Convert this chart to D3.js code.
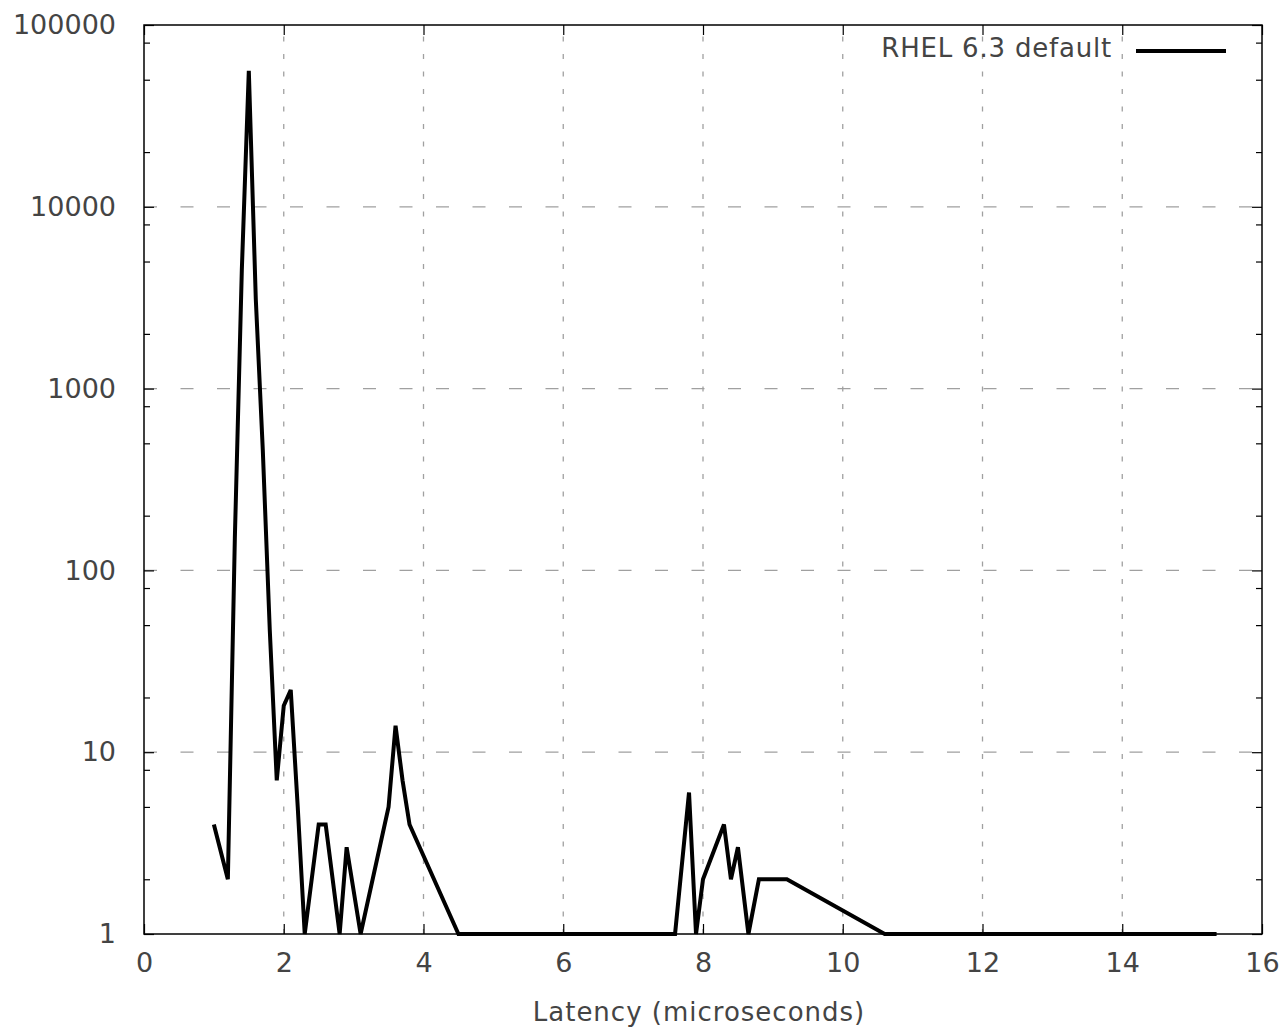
<!DOCTYPE html>
<html>
<head>
<meta charset="utf-8">
<script src="https://cdn.jsdelivr.net/npm/d3@7"></script>
<style>
  body { margin: 0; background: #fff; }
  svg { display: block; }
  text { font-family: 'DejaVu Sans', sans-serif; fill: #444; }
</style>
</head>
<body>
<script>
'use strict';

// latency histogram
const latency = [1.0, 1.2, 1.3, 1.4, 1.5, 1.6, 1.7, 1.8, 1.9, 2.0, 2.1, 2.2, 2.3, 2.5, 2.6, 2.8, 2.9, 3.1,
  3.5, 3.6, 3.7, 3.8, 4.5, 7.6, 7.8, 7.9, 8.0, 8.3, 8.4, 8.5, 8.65, 8.8, 9.2, 10.6, 15.35];
const counts = [4, 2, 150, 4500, 56000, 3100, 460, 47, 7, 18, 22, 5, 1, 4, 4, 1, 3, 1,
  5, 14, 7, 4, 1, 1, 6, 1, 2, 4, 2, 3, 1, 2, 2, 1, 1];

const xTicks = [0, 2, 4, 6, 8, 10, 12, 14, 16];
const yTicks = [1, 10, 100, 1000, 10000, 100000];
const yMinor = [2, 5, 8, 20, 50, 80, 200, 500, 800, 2000, 5000, 8000, 20000, 50000, 80000];
const seriesName = 'RHEL 6.3 default';
const xTitle = 'Latency (microseconds)';

const W = 1280, H = 1029;
const pLeft = 144, pRight = 1262, pTop = 25, pBottom = 934;

const $svg = d3.select('body').append('svg').attr('width', W).attr('height', H);

const x = d3.scaleLinear().domain([0, 16]).range([pLeft, pRight]);
const y = d3.scaleLog().domain([1, 100000]).range([pBottom, pTop]);

// grid
const $grid = $svg.append('g').attr('class', 'grid')
  .attr('stroke', '#a0a0a0').attr('stroke-width', 1.3).attr('fill', 'none');
$grid.selectAll('.vg')
  .data(xTicks.slice(1, -1))
  .enter()
  .append('line')
  .attr('x1', (d) => x(d)).attr('x2', (d) => x(d))
  .attr('y1', pBottom).attr('y2', pTop)
  .attr('stroke-dasharray', '5,12.5');
$grid.selectAll('.hg')
  .data(yTicks.slice(1, -1))
  .enter()
  .append('line')
  .attr('x1', pLeft).attr('x2', pRight)
  .attr('y1', (d) => y(d)).attr('y2', (d) => y(d))
  .attr('stroke-dasharray', '13,23.5');

// axes, ticks pointing inward
const fmt = d3.format('d');
const styleAxis = (g) => {
  g.select('.domain').remove();
  g.selectAll('.tick line').attr('stroke', '#000').attr('stroke-width', 1.2);
  g.selectAll('text').attr('font-size', 27).attr('fill', '#444')
    .attr('font-family', "'DejaVu Sans', sans-serif");
};

$svg.append('g')
  .attr('transform', `translate(0,${pBottom})`)
  .call(d3.axisBottom(x).tickValues(xTicks).tickFormat(fmt).tickSizeInner(-10).tickPadding(19))
  .call(styleAxis);
$svg.append('g')
  .attr('transform', `translate(0,${pTop})`)
  .call(d3.axisTop(x).tickValues(xTicks).tickFormat('').tickSizeInner(-10))
  .call(styleAxis);
$svg.append('g')
  .attr('transform', `translate(${pLeft},0)`)
  .call(d3.axisLeft(y).tickValues(yTicks).tickFormat(fmt).tickSizeInner(-10).tickPadding(28))
  .call(styleAxis);
$svg.append('g')
  .attr('transform', `translate(${pLeft},0)`)
  .call(d3.axisLeft(y).tickValues(yMinor).tickFormat('').tickSizeInner(-6))
  .call(styleAxis);
$svg.append('g')
  .attr('transform', `translate(${pRight},0)`)
  .call(d3.axisRight(y).tickValues(yTicks).tickFormat('').tickSizeInner(-10))
  .call(styleAxis);
$svg.append('g')
  .attr('transform', `translate(${pRight},0)`)
  .call(d3.axisRight(y).tickValues(yMinor).tickFormat('').tickSizeInner(-6))
  .call(styleAxis);

// border
$svg.append('rect')
  .attr('x', pLeft).attr('y', pTop)
  .attr('width', pRight - pLeft).attr('height', pBottom - pTop)
  .attr('fill', 'none').attr('stroke', '#000').attr('stroke-width', 1.5);

// data line
const pts = latency.map((d, i) => [d, counts[i]]);
const line = d3.line().x((d) => x(d[0])).y((d) => y(d[1]));
$svg.append('path')
  .datum(pts)
  .attr('d', line)
  .attr('fill', 'none')
  .attr('stroke', '#000')
  .attr('stroke-width', 4)
  .attr('stroke-linejoin', 'miter');

// legend
$svg.append('text')
  .attr('x', 1112).attr('y', 49)
  .attr('text-anchor', 'end')
  .attr('dominant-baseline', 'middle')
  .attr('font-size', 26)
  .attr('letter-spacing', 0.8)
  .text(seriesName);
$svg.append('line')
  .attr('x1', 1136).attr('x2', 1226)
  .attr('y1', 51).attr('y2', 51)
  .attr('stroke', '#000').attr('stroke-width', 4);

// x title
$svg.append('text')
  .attr('x', 699)
  .attr('y', 1013)
  .attr('text-anchor', 'middle')
  .attr('dominant-baseline', 'middle')
  .attr('font-size', 26)
  .attr('letter-spacing', 1)
  .text(xTitle);
</script>
</body>
</html>
